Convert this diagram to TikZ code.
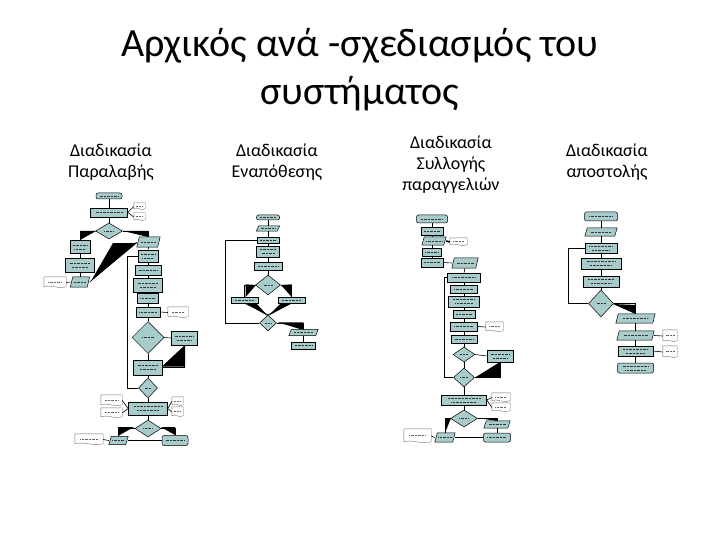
\documentclass[tikz,border=0pt]{standalone}
\usepackage{fontspec}
\setmainfont{Carlito}
\usetikzlibrary{shapes.geometric,calc}
\definecolor{boxc}{RGB}{168,204,204}
\tikzset{
  bx/.style={draw=black, fill=boxc, line width=0.5pt, inner sep=0pt},
  sz/.style 2 args={minimum width=#1pt, minimum height=#2pt},
  rbox/.style={bx, rectangle},
  term/.style={bx, rectangle, rounded corners=2pt},
  dia/.style={bx, diamond},
  docline/.style={draw=black!55, line width=0.4pt},
  ln/.style={draw=black, line width=0.6pt},
  thk/.style={draw=black, line width=1.6pt},
  wedge/.style={fill=black},
  dotrow/.style={draw=black!80, line width=0.6pt, dash pattern=on 0.6pt off 0.8pt},
  tx/.style={path picture={\draw[dotrow] ($(path picture bounding box.west)!0.14!(path picture bounding box.east)$) -- ($(path picture bounding box.west)!0.86!(path picture bounding box.east)$);}},
  tx2/.style={path picture={
    \draw[dotrow] ($(path picture bounding box.west)!0.14!(path picture bounding box.east)+(0pt,2pt)$) -- ($(path picture bounding box.west)!0.86!(path picture bounding box.east)+(0pt,2pt)$);
    \draw[dotrow] ($(path picture bounding box.west)!0.22!(path picture bounding box.east)+(0pt,-2pt)$) -- ($(path picture bounding box.west)!0.78!(path picture bounding box.east)+(0pt,-2pt)$);}},
  txd/.style={path picture={\draw[dotrow] ($(path picture bounding box.west)!0.32!(path picture bounding box.east)$) -- ($(path picture bounding box.west)!0.68!(path picture bounding box.east)$);}},
}
\newcommand\mydoc[5]{%
  \node[inner sep=0pt, minimum width=#4pt, minimum height=#5pt] (#1) at (#2,#3) {};
  \draw[docline] ([yshift=1.5pt]#1.south west) -- (#1.north west) -- (#1.north east) -- ([yshift=1.5pt]#1.south east)
    .. controls ($(#1.south east)!0.33!(#1.south west)+(0pt,-1.5pt)$) and ($(#1.south east)!0.67!(#1.south west)+(0pt,4pt)$) .. ([yshift=1.5pt]#1.south west);
  \draw[dotrow, black!60] ($(#1.west)!0.2!(#1.east)+(0pt,0.5pt)$) -- ($(#1.west)!0.8!(#1.east)+(0pt,0.5pt)$);}
\newcommand\mypara[5]{%
  \node[inner sep=0pt, minimum width=#4pt, minimum height=#5pt] (#1) at (#2,#3) {};
  \filldraw[bx] (#1.south west) -- ([xshift=2.5pt]#1.north west) -- (#1.north east) -- ([xshift=-2.5pt]#1.south east) -- cycle;
  \draw[dotrow] ($(#1.west)!0.18!(#1.east)$) -- ($(#1.west)!0.82!(#1.east)$);}
\begin{document}
\begin{tikzpicture}[x=1pt, y=-1pt]
\fill[white] (0,0) rectangle (720,540);
\useasboundingbox (0,0) rectangle (720,540);

% titles
\node[font=\fontsize{40}{48}\selectfont, align=center] (title) at (360,70) {Αρχικός ανά -σχεδιασμός του\\συστήματος};
\node[font=\fontsize{18}{21}\selectfont, align=center] (h1) at (111,162) {Διαδικασία\\Παραλαβής};
\node[font=\fontsize{18}{21}\selectfont, align=center] (h2) at (277,162) {Διαδικασία\\Εναπόθεσης};
\node[font=\fontsize{18}{21}\selectfont, align=center] (h3) at (451,165) {Διαδικασία\\Συλλογής\\παραγγελιών};
\node[font=\fontsize{18}{21}\selectfont, align=center] (h4) at (607,162) {Διαδικασία\\αποστολής};

% ---------------- column 1
\fill[wedge] (80,231) -- (96,231) -- (80,240) -- cycle;
\fill[wedge] (123,231) -- (148,231) -- (148,237) -- cycle;
\fill[wedge] (113,243) -- (137,243) -- (91,281) -- cycle;
\fill[wedge] (161.7,366.7) -- (185,345) -- (185,366.7) -- cycle;
\fill[wedge] (118,427) -- (134,427) -- (118,436) -- cycle;
\fill[wedge] (161,427) -- (175,427) -- (175,435) -- cycle;

\node[term,sz={26}{6},tx] (a1) at (109,196) {};
\node[rbox,sz={37}{9},tx] (a2) at (109,212.5) {};
\mydoc{a2da}{139.5}{206.5}{11}{7}
\mydoc{a2db}{139.5}{217}{11}{8}
\node[dia,sz={27}{16},txd] (a3) at (109,231) {};
\node[rbox,sz={20}{13},tx2] (aL1) at (80,247) {};
\node[rbox,sz={29}{14},tx2] (aL2) at (80,265.5) {};
\mypara{aL3}{80}{282}{19}{10}
\mydoc{aLd}{55}{282.5}{22}{11}
\mypara{aR1}{148.5}{242}{23}{10}
\node[rbox,sz={20}{12},tx2] (aR2) at (148,256) {};
\node[rbox,sz={26}{10},tx] (aR3) at (148,270) {};
\node[rbox,sz={29}{14},tx2] (aR4) at (148,285) {};
\node[rbox,sz={21}{10},tx] (aR5) at (148,298) {};
\node[rbox,sz={24}{10},tx] (aR6) at (148,312) {};
\mydoc{aR6d}{178}{312.5}{20}{11}
\node[dia,sz={32}{32},txd] (aD1) at (148,337.5) {};
\node[rbox,sz={26}{14},tx2] (aS1) at (184,338) {};
\node[rbox,sz={29}{15},tx2] (aR7) at (148,367.5) {};
\node[dia,sz={19}{20},txd] (aD2) at (148,388) {};
\node[rbox,sz={39}{13},tx2] (aB) at (148,408.5) {};
\mydoc{aBl1}{111.5}{400.5}{21}{11}
\mydoc{aBl2}{111.5}{413}{21}{10}
\mydoc{aBr1}{177.5}{401.5}{11}{9}
\mydoc{aBr2}{177.5}{412}{11}{10}
\node[dia,sz={26}{17},txd] (aD3) at (148,428.5) {};
\mypara{aE1}{118.5}{440.5}{19}{8}
\node[term,sz={26}{10},tx] (aE2) at (175,440.5) {};
\mydoc{aEd}{89}{439.5}{28}{11}

\draw[ln] (a1.south) -- (a2.north);
\draw[ln] (a2.east) -- (a2da.west);
\draw[ln] (a2.east) -- (a2db.west);
\draw[ln] (a2.south) -- (a3.north);
\draw[ln] (a3.west) -| (aL1.north);
\draw[ln] (a3.east) -| (aR1.north);
\draw[ln] (aL1.south) -- (aL2.north);
\draw[ln] (aL2.south) -- (aL3.north);
\draw[ln] (aLd.east) -- (aL3.west);
\draw[ln] (aL3.east) -- (aR1.west);
\draw[ln] (aR1.south) -- (aR2.north);
\draw[ln] (aR2.south) -- (aR3.north);
\draw[ln] (aR3.south) -- (aR4.north);
\draw[ln] (aR4.south) -- (aR5.north);
\draw[ln] (aR5.south) -- (aR6.north);
\draw[ln] (aR6.east) -- (aR6d.west);
\draw[ln] (aR6.south) -- (aD1.north);
\draw[ln] (aD1.east) -- (aS1.west);
\draw[ln] (aD1.south) -- (aR7.north);
\draw[ln] (aS1.south) |- (aR7.east);
\draw[ln] (aR7.south) -- (aD2.north);
\draw[ln] (aD2.west) -| ([xshift=-10pt]aR2.west) -- (aR2.west);
\draw[ln] (aD2.south) -- (aB.north);
\draw[ln] (aBl1.east) -- (aB.west);
\draw[ln] (aBl2.east) -- (aB.west);
\draw[ln] (aBr1.west) -- (aB.east);
\draw[ln] (aBr2.west) -- (aB.east);
\draw[ln] (aB.south) -- (aD3.north);
\draw[ln] (aD3.west) -| (aE1.north);
\draw[ln] (aD3.east) -| (aE2.north);
\draw[thk] (aE1.east) -- (aE2.west);
\draw[ln] (aEd.east) -- (aE1.west);

% ---------------- column 2
\fill[wedge] (245.7,284.3) -- (256,285) -- (245.7,297) -- cycle;
\fill[wedge] (281,285) -- (291.7,284.3) -- (291.7,297) -- cycle;
\fill[wedge] (245,303) -- (256,303) -- (268,316) -- cycle;
\fill[wedge] (292,303) -- (281,303) -- (268,316) -- cycle;
\fill[wedge] (277.7,322.3) -- (303.3,322.3) -- (303.3,330) -- cycle;

\node[term,sz={23}{5},tx] (b1) at (268,217.5) {};
\mypara{b2}{268}{228.5}{23}{5}
\node[rbox,sz={22}{6},tx] (b3) at (268,240) {};
\node[rbox,sz={23}{11},tx2] (b4) at (268,251.5) {};
\node[rbox,sz={28}{8},tx] (b5) at (268,266) {};
\node[dia,sz={25}{20},txd] (bD1) at (268,285) {};
\node[rbox,sz={27}{6},tx] (bL) at (244.5,300) {};
\node[rbox,sz={27}{6},tx] (bR) at (291.5,300) {};
\node[dia,sz={17}{16},txd] (bD2) at (268,323) {};
\mypara{b6}{303.5}{332.5}{29}{6}
\node[rbox,sz={24}{7},tx] (b7) at (303.5,345.5) {};

\draw[ln] (b1.south) -- (b2.north);
\draw[ln] (b2.south) -- (b3.north);
\draw[ln] (b3.south) -- (b4.north);
\draw[ln] (b4.south) -- (b5.north);
\draw[ln] (b5.south) -- (bD1.north);
\draw[ln] (bD1.west) -| (bL.north);
\draw[ln] (bD1.east) -| (bR.north);
\draw[ln] (bL.south) -- (bD2.north);
\draw[ln] (bR.south) -- (bD2.north);
\draw[ln] (bD2.west) -| ([xshift=-31pt]b3.west) -- (b3.west);
\draw[ln] (bD2.east) -| (b6.north);
\draw[ln] (b6.south) -- (b7.north);

% ---------------- column 3
\fill[wedge] (475,377.5) -- (500,362) -- (500,378) -- cycle;
\fill[wedge] (445,418) -- (451,418) -- (445,433) -- cycle;
\fill[wedge] (478,418) -- (497,418) -- (497,421) -- cycle;

\node[term,sz={31}{8},tx] (c1) at (432,219) {};
\node[rbox,sz={22}{8},tx] (c2) at (432,231) {};
\mypara{c3}{434}{241}{24}{8}
\mydoc{cd3}{458.5}{242}{17}{8}
\node[rbox,sz={19}{8},tx] (c4) at (432,252) {};
\node[rbox,sz={22}{9},tx] (c5) at (432,262.5) {};
\mypara{c6}{465}{263}{26}{10}
\node[rbox,sz={33}{9},tx] (c7) at (464,277.5) {};
\node[rbox,sz={27}{8},tx] (c8) at (464,289) {};
\node[rbox,sz={31}{11},tx2] (c9) at (464,301.5) {};
\node[rbox,sz={22}{8},tx] (c10) at (464,314) {};
\node[rbox,sz={27}{9},tx] (c11) at (464,326.5) {};
\mydoc{cd11}{494.5}{327}{17}{10}
\node[rbox,sz={26}{8},tx] (c12) at (464,339) {};
\node[dia,sz={22}{15},txd] (cD1) at (464,354.5) {};
\node[rbox,sz={26}{12},tx2] (cS) at (500,356) {};
\node[dia,sz={21}{19},txd] (cD2) at (464,377.5) {};
\node[rbox,sz={45}{10},tx2] (cB) at (464,400) {};
\mydoc{cBd1}{501}{397.5}{18}{9}
\mydoc{cBd2}{501}{407.5}{18}{9}
\node[dia,sz={27}{17},txd] (cD3) at (464,418.5) {};
\mypara{cE1}{445}{437.5}{20}{9}
\mypara{cR}{497}{424.5}{26}{7}
\node[term,sz={27}{9},tx] (cE2) at (497,437.5) {};
\mydoc{cEd}{417.5}{436}{27}{14}

\draw[ln] (c1.south) -- (c2.north);
\draw[ln] (c2.south) -- (c3.north -| c2.south);
\draw[thk] (c3.east) -- (cd3.west);
\draw[ln] (c3.south -| c2.south) -- (c4.north);
\draw[ln] (c4.south) -- (c5.north);
\draw[ln] (c5.east) -- (c6.west);
\draw[ln] (c6.south) -- (c7.north);
\draw[ln] (c7.south) -- (c8.north);
\draw[ln] (c8.south) -- (c9.north);
\draw[ln] (c9.south) -- (c10.north);
\draw[ln] (c10.south) -- (c11.north);
\draw[ln] (c11.east) -- (cd11.west);
\draw[ln] (c11.south) -- (c12.north);
\draw[ln] (c12.south) -- (cD1.north);
\draw[ln] (cD1.east) -- (cS.west);
\draw[ln] (cD1.south) -- (cD2.north);
\draw[ln] (cS.south) |- (cD2.east);
\draw[ln] (cD2.west) -| ([xshift=-2.5pt]c7.west) -- (c7.west);
\draw[ln] (cD2.south) -- (cB.north);
\draw[ln] (cBd1.west) -- (cB.east);
\draw[ln] (cBd2.west) -- (cB.east);
\draw[ln] (cB.south) -- (cD3.north);
\draw[ln] (cD3.west) -| (cE1.north);
\draw[ln] (cD3.east) -| (cR.north);
\draw[ln] (cR.south) -- (cE2.north);
\draw[thk] (cE1.east) -- (cE2.west);
\draw[ln] (cEd.east) -- (cE1.west);

% ---------------- column 4
\fill[wedge] (613,304) -- (636,305) -- (635.5,314) -- cycle;

\node[term,sz={33}{9},tx] (d1) at (601,216.5) {};
\mypara{d2}{601}{232}{32}{8}
\node[rbox,sz={32}{10},tx2] (d3) at (601,248) {};
\node[rbox,sz={40}{11},tx2] (d4) at (601,263.5) {};
\node[rbox,sz={36}{11},tx2] (d5) at (601,281.5) {};
\node[dia,sz={25}{27},txd] (dD) at (601,303.5) {};
\mypara{d6}{635.5}{318.5}{39}{9}
\mypara{d7}{635.5}{335.5}{37}{9}
\mydoc{dd7}{670}{336}{14}{12}
\node[rbox,sz={35}{10},tx2] (d8) at (635.5,351) {};
\mydoc{dd8}{670}{352}{14}{12}
\node[term,sz={36}{10},tx2] (d9) at (635.5,368) {};

\draw[ln] (d1.south) -- (d2.north);
\draw[ln] (d2.south) -- (d3.north);
\draw[ln] (d3.south) -- (d4.north);
\draw[ln] (d4.south) -- (d5.north);
\draw[ln] (d5.south) -- (dD.north);
\draw[ln] (dD.west) -| ([xshift=-16pt]d3.west) -- (d3.west);
\draw[ln] (dD.east) -| (d6.north);
\draw[ln] (d6.south) -- (d7.north);
\draw[ln] (d7.east) -- (dd7.west);
\draw[ln] (d7.south) -- (d8.north);
\draw[ln] (dd8.west) -- (d8.east);
\draw[ln] (d8.south) -- (d9.north);
\end{tikzpicture}
\end{document}
